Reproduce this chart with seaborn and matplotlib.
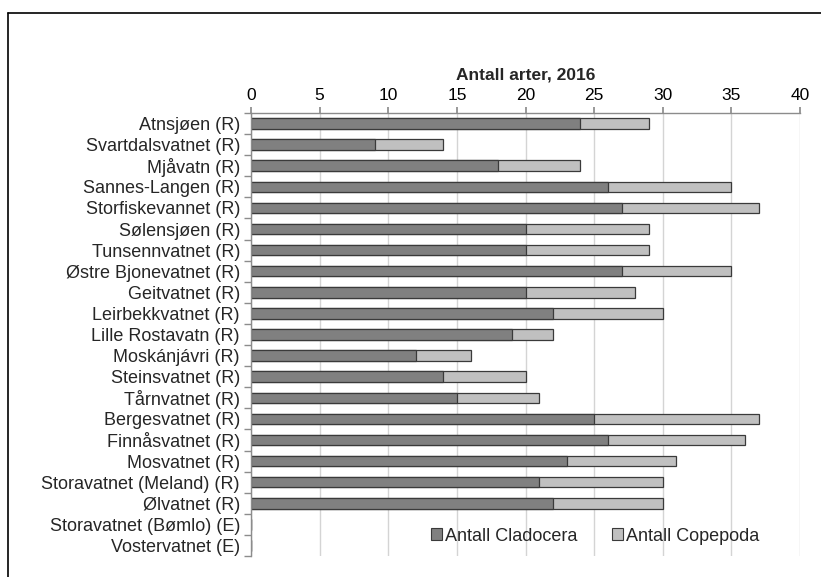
import matplotlib
matplotlib.use("Agg")
import matplotlib.pyplot as plt
import seaborn as sns
import pandas as pd
from matplotlib.lines import Line2D
from matplotlib.patches import Patch

lakes = ["Atnsjøen (R)", "Svartdalsvatnet (R)", "Mjåvatn (R)", "Sannes-Langen (R)",
         "Storfiskevannet (R)", "Sølensjøen (R)", "Tunsennvatnet (R)", "Østre Bjonevatnet (R)",
         "Geitvatnet (R)", "Leirbekkvatnet (R)", "Lille Rostavatn (R)", "Moskánjávri (R)",
         "Steinsvatnet (R)", "Tårnvatnet (R)", "Bergesvatnet (R)", "Finnåsvatnet (R)",
         "Mosvatnet (R)", "Storavatnet (Meland) (R)", "Ølvatnet (R)",
         "Storavatnet (Bømlo) (E)", "Vostervatnet (E)"]
cladocera = [24, 9, 18, 26, 27, 20, 20, 27, 20, 22, 19, 12, 14, 15, 25, 26, 23, 21, 22, 0, 0]
copepoda = [5, 5, 6, 9, 10, 9, 9, 8, 8, 8, 3, 4, 6, 6, 12, 10, 8, 9, 8, 0, 0]
xticks = [0, 5, 10, 15, 20, 25, 30, 35, 40]
title = "Antall arter, 2016"
series_names = ["Antall Cladocera", "Antall Copepoda"]

df = pd.DataFrame({"lake": lakes, "clad": cladocera, "cope": copepoda})
df["total"] = df["clad"] + df["cope"]

sns.set_theme(style="white")
plt.rcParams["font.family"] = ["Liberation Sans", "DejaVu Sans"]

W, H = 821, 577
fig = plt.figure(figsize=(W / 100, H / 100), dpi=100)
ax = fig.add_axes([251 / W, 1 - 556 / H, (800 - 251) / W, (556 - 113) / H])

dark = "#808080"
light = "#c0c0c0"
edge = "#3a3a3a"

sns.barplot(data=df, y="lake", x="total", color=light, orient="h", width=0.5,
            edgecolor=edge, linewidth=0.9, ax=ax, saturation=1)
sns.barplot(data=df, y="lake", x="clad", color=dark, orient="h", width=0.5,
            edgecolor=edge, linewidth=0.9, ax=ax, saturation=1)

ax.set_xlim(0, 40)
ax.set_ylim(len(lakes) - 0.5, -0.5)
ax.set_xticks(xticks)
ax.xaxis.tick_top()
ax.xaxis.set_label_position("top")
ax.set_xlabel("")
ax.set_ylabel("")
ax.grid(axis="x", color="#d4d4d4", linewidth=1)
ax.set_axisbelow(True)
for s in ["right", "bottom"]:
    ax.spines[s].set_visible(False)
for s in ["top", "left"]:
    ax.spines[s].set_color("#8c8c8c")
    ax.spines[s].set_linewidth(1)

ax.tick_params(axis="x", which="major", top=True, length=4, color="#8c8c8c",
               labelsize=12.5, pad=3, labelcolor="#000000")
ax.tick_params(axis="y", which="major", left=False, length=0, labelsize=13, pad=8)
ax.set_yticks(range(len(lakes)))
ax.set_yticklabels(lakes)
ax.set_yticks([i - 0.5 for i in range(len(lakes) + 1)], minor=True)
ax.tick_params(axis="y", which="minor", left=True, length=5, color="#8c8c8c", width=1)

ax.set_title(title, fontsize=12.5, fontweight="bold", pad=24)

handles = [Patch(facecolor=dark, edgecolor=edge, linewidth=0.8),
           Patch(facecolor=light, edgecolor=edge, linewidth=0.8)]
ax.legend(handles, series_names, loc="center", bbox_to_anchor=(0.627, 0.045),
          ncol=2, frameon=False, fontsize=13, handlelength=0.6, handleheight=0.6,
          handletextpad=0.2, columnspacing=1.9)

# outer border
fig.add_artist(Line2D([8 / W, 8 / W], [1 - 13 / H, 0], color="black", linewidth=1.2))
fig.add_artist(Line2D([8 / W, 1], [1 - 13 / H, 1 - 13 / H], color="black", linewidth=1.2))

fig.savefig("out.png", dpi=100)
